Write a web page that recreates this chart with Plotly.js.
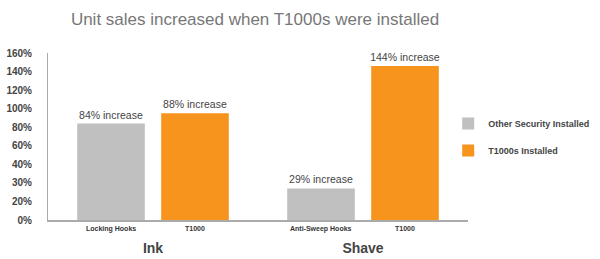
<!DOCTYPE html>
<html>
<head>
<meta charset="utf-8">
<script src="https://cdn.plot.ly/plotly-3.0.1.min.js"></script>
<style>html,body{margin:0;padding:0;background:#fff;}#chart{width:600px;height:259px;}</style>
</head>
<body>
<div id="chart"></div>
<script>
// ---- data ----
const groups = ["Ink", "Shave"];
const otherSubLabels = ["Locking Hooks", "Anti-Sweep Hooks"];
const t1000SubLabels = ["T1000", "T1000"];
const otherValues = [84, 27];      // bar heights (percent, on the chart's tick scale)
const t1000Values = [95, 146];
const otherLabels = ["84% increase", "29% increase"];
const t1000Labels = ["88% increase", "144% increase"];
const yTickValues = [0, 20, 30, 40, 60, 80, 100, 120, 140, 160];
const yTickLabels = ["0%", "20%", "30%", "40%", "60%", "80%", "100%", "120%", "140%", "160%"];
const seriesNames = ["Other Security Installed", "T1000s Installed"];

// The reference axis spaces its (irregular) tick values evenly: piecewise scale
function pos(v) {
  for (let i = 0; i < yTickValues.length - 1; i++) {
    const a = yTickValues[i], b = yTickValues[i + 1];
    if (v <= b) return i + (v - a) / (b - a);
  }
  return yTickValues.length - 1;
}
const tickPositions = yTickValues.map((_, i) => i);

const FONT = "Liberation Sans, Arial, Helvetica, sans-serif";
const GRAY = "#c0c0c0", ORANGE = "#f7941d";

const labelFont = {family: FONT, size: 10.5, color: "#444"};

const traces = [
  {
    type: "bar", name: seriesNames[0], x: groups, y: otherValues.map(pos),
    marker: {color: GRAY}, text: otherLabels, textposition: "outside", constraintext: "none",
    textfont: labelFont, outsidetextfont: labelFont, cliponaxis: false,
    hoverinfo: "skip", legendgroup: "a"
  },
  {
    type: "bar", name: seriesNames[1], x: groups, y: t1000Values.map(pos),
    marker: {color: ORANGE}, text: t1000Labels, textposition: "outside", constraintext: "none",
    textfont: labelFont, outsidetextfont: labelFont, cliponaxis: false,
    hoverinfo: "skip", legendgroup: "b"
  }
];

const subFont = {family: FONT, size: 7, color: "#333", weight: "bold"};
const annotations = [];
groups.forEach((g, i) => {
  annotations.push({x: g, y: 0, xref: "x", yref: "y", text: otherSubLabels[i], showarrow: false,
    xshift: -42, yshift: -3, yanchor: "top", font: subFont});
  annotations.push({x: g, y: 0, xref: "x", yref: "y", text: t1000SubLabels[i], showarrow: false,
    xshift: 42, yshift: -3, yanchor: "top", font: subFont});
});

const layout = {
  width: 600, height: 259,
  margin: {l: 48, r: 132, t: 53, b: 39, pad: 0, autoexpand: false},
  paper_bgcolor: "#fff", plot_bgcolor: "#fff",
  font: {family: FONT},
  title: {text: "Unit sales increased when T1000s were installed",
    font: {family: FONT, size: 17, color: "#777"},
    x: 0.425, xanchor: "center", y: 0.925, yanchor: "middle", xref: "container", yref: "container"},
  barmode: "group", bargap: 0.2, bargroupgap: 0.195,
  xaxis: {type: "category", showgrid: false, zeroline: false, showline: true,
    linecolor: "#aaa", linewidth: 2, ticks: "", ticklabelstandoff: 14, automargin: false,
    tickfont: {family: FONT, size: 14, color: "#444", weight: "bold"}, fixedrange: true},
  yaxis: {range: [0, yTickValues.length - 1], tickvals: tickPositions, ticktext: yTickLabels,
    showgrid: false, zeroline: false, showline: true, linecolor: "#aaa", linewidth: 1,
    ticks: "", ticklabelstandoff: 13, automargin: false,
    tickfont: {family: FONT, size: 10, color: "#444", weight: "bold"}, fixedrange: true},
  legend: {xref: "container", yref: "container", x: 0.747, y: 0.471, xanchor: "left", yanchor: "middle",
    font: {family: FONT, size: 9, color: "#444", weight: "bold"},
    traceorder: "grouped", tracegroupgap: 8, bgcolor: "rgba(0,0,0,0)"},
  annotations: annotations,
  showlegend: true
};

Plotly.newPlot("chart", traces, layout, {displayModeBar: false, staticPlot: true});
</script>
</body>
</html>
